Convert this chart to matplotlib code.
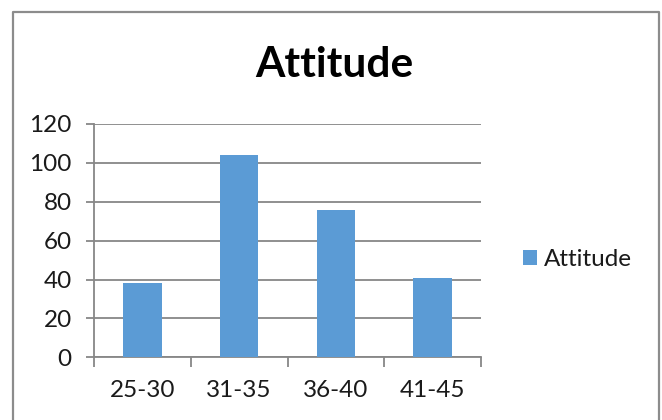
import matplotlib
matplotlib.use("Agg")
import matplotlib.pyplot as plt
from matplotlib.lines import Line2D
from matplotlib.patches import Patch

categories = ["25-30", "31-35", "36-40", "41-45"]
values = [38, 104, 76, 41]
series_name = "Attitude"
title = "Attitude"
yticks = [0, 20, 40, 60, 80, 100, 120]

W, H = 662, 420
plt.rcParams['font.family'] = ['Lato', 'DejaVu Sans']
fig = plt.figure(figsize=(W / 100, H / 100), dpi=100)
fig.patch.set_facecolor('white')

ax = fig.add_axes([94 / W, 1 - 357.3 / H, (481 - 94) / W, (357.3 - 124) / H])
bar_color = '#5B9BD5'
grid_color = '#878787'
text_color = '#1a1a1a'

x = list(range(len(categories)))
ax.bar(x, values, width=0.4, color=bar_color, zorder=3)
ax.set_xlim(-0.5, len(categories) - 0.5)
ax.set_ylim(0, 120)
ax.set_yticks(yticks)
ax.yaxis.grid(True, color=grid_color, linewidth=1.3, zorder=0)
for s in ['top', 'right']:
    ax.spines[s].set_visible(False)
for s in ['left', 'bottom']:
    ax.spines[s].set_color(grid_color)
    ax.spines[s].set_linewidth(1.3)
ax.tick_params(axis='y', length=6, width=1.3, color=grid_color, pad=10,
               labelsize=17.5, labelcolor=text_color)
# category boundaries as major ticks, labels at centers as minor ticks
ax.set_xticks([i - 0.5 for i in range(len(categories) + 1)])
ax.set_xticklabels([])
ax.tick_params(axis='x', which='major', length=7, width=1.3, color=grid_color, direction='out')
ax.set_xticks(x, minor=True)
ax.set_xticklabels(categories, minor=True)
ax.tick_params(axis='x', which='minor', length=0, pad=16, labelsize=17.5, labelcolor=text_color)

fig.text(334 / W, 1 - 77 / H, title, ha='center', va='baseline',
         fontsize=30.5, fontweight='bold', color='black')

handle = Patch(facecolor=bar_color, edgecolor='none')
fig.legend([handle], [series_name], loc='center left',
           bbox_to_anchor=(523 / W, 1 - 260 / H), frameon=False,
           fontsize=17.5, handlelength=0.58, handleheight=0.58,
           handletextpad=0.3, borderpad=0, borderaxespad=0,
           labelcolor=text_color)

# chart area border (left, top, right; bottom is cropped)
bx0, bx1 = 12.5 / W, 659 / W
by_top = 1 - 11.5 / H
fig.add_artist(Line2D([bx0, bx0, bx1, bx1], [0, by_top, by_top, 0],
                      transform=fig.transFigure, color='#8c8c8c', linewidth=1.6))

fig.savefig('out.png', dpi=100)
